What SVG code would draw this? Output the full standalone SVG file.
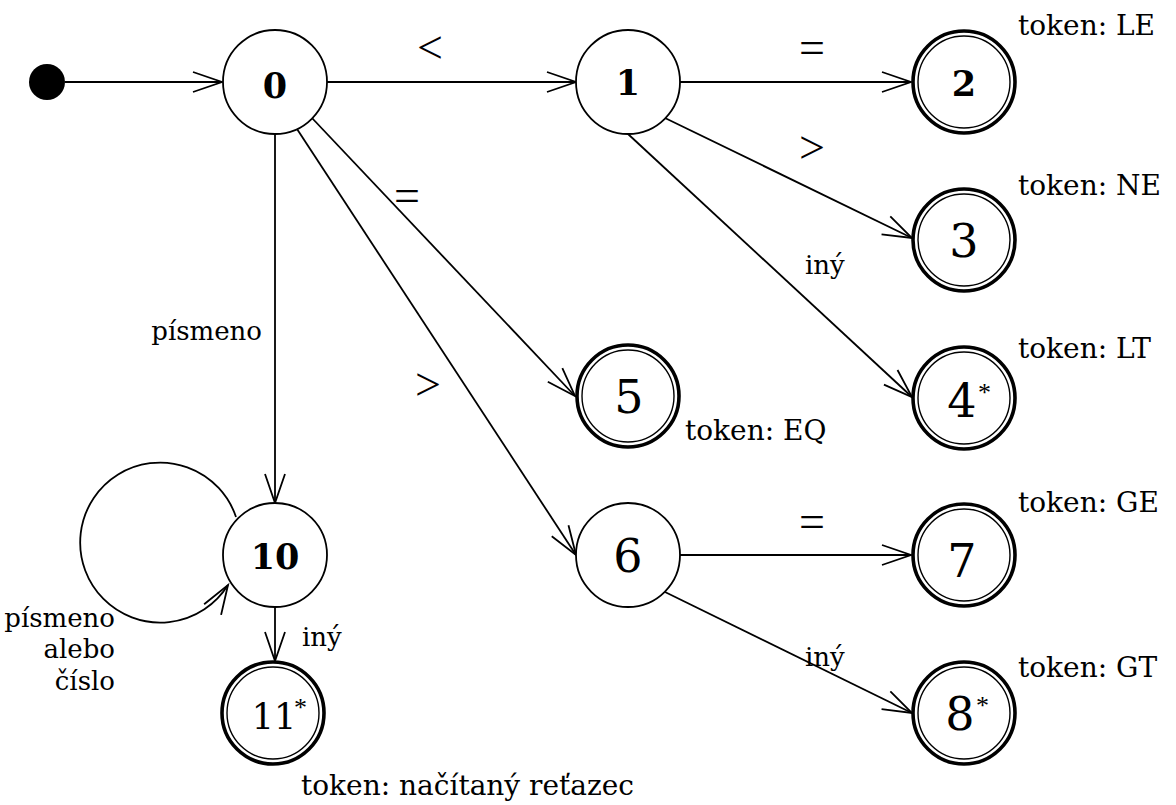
<svg xmlns="http://www.w3.org/2000/svg" width="1176" height="805" viewBox="0 0 1176 805">
  <defs>
    <marker id="arrow" markerUnits="userSpaceOnUse" markerWidth="40" markerHeight="30" viewBox="-32 -15 40 30" refX="0" refY="0" orient="auto" overflow="visible">
      <path d="M -29 -10 L 0 0 L -29 10" fill="none" stroke="#000" stroke-width="1.8" stroke-linejoin="miter"/>
    </marker>
    <style>
      .state { fill: #fff; stroke: #000; stroke-width: 1.8; }
      .outer { fill: #fff; stroke: #000; stroke-width: 3.6; }
      .inner { fill: none; stroke: #000; stroke-width: 1.4; }
      .edge { fill: none; stroke: #000; stroke-width: 1.8; marker-end: url(#arrow); }
      .num { font-family: "DejaVu Serif", serif; text-anchor: middle; fill: #000; }
      .small { font-size: 35px; font-weight: bold; }
      .big { font-size: 46px; }
      .ast { font-family: "Liberation Serif", serif; font-size: 26px; fill: #000; }
      .lbl { font-family: "DejaVu Serif", serif; font-size: 26px; fill: #000; }
      .tok { font-family: "DejaVu Serif", serif; font-size: 28px; fill: #000; }
      .op { font-family: "Liberation Serif", serif; font-size: 46px; text-anchor: middle; fill: #000; }
    </style>
  </defs>

  <!-- transitions -->
  <g id="edges">
    <line class="edge" x1="65" y1="82" x2="222" y2="82"/>
    <line class="edge" x1="327" y1="82" x2="576" y2="82"/>
    <line class="edge" x1="680" y1="82" x2="911" y2="82"/>
    <line class="edge" x1="665" y1="118" x2="912" y2="238"/>
    <line class="edge" x1="628" y1="134" x2="912" y2="397"/>
    <line class="edge" x1="312" y1="118" x2="575" y2="396"/>
    <line class="edge" x1="297" y1="129" x2="576" y2="555"/>
    <line class="edge" x1="275" y1="134" x2="275" y2="503"/>
    <line class="edge" x1="275" y1="607" x2="275" y2="661"/>
    <line class="edge" x1="680" y1="555" x2="911" y2="555"/>
    <line class="edge" x1="665" y1="592" x2="912" y2="713"/>
    <path class="edge" d="M 236 517 A 80 80 0 1 0 228 585"/>

    <text class="op" x="430" y="63">&lt;</text>
    <text class="op" x="812" y="63">=</text>
    <text class="op" x="812" y="163">&gt;</text>
    <text class="op" x="407" y="211">=</text>
    <text class="op" x="428" y="400">&gt;</text>
    <text class="op" x="812" y="537">=</text>
    <text class="lbl" x="805" y="274">iný</text>
    <text class="lbl" x="805" y="666">iný</text>
    <text class="lbl" x="302" y="646">iný</text>
    <text class="lbl" x="262" y="340" text-anchor="end">písmeno</text>
    <text class="lbl" x="115" text-anchor="end"><tspan x="115" y="627">písmeno</tspan><tspan x="115" y="658">alebo</tspan><tspan x="115" y="690">číslo</tspan></text>
  </g>

  <!-- initial marker -->
  <g id="start">
    <circle cx="47" cy="82" r="18" fill="#000"/>
  </g>

  <g id="s0">
    <circle class="state" cx="275" cy="82" r="52"/>
    <text class="num small" x="275" y="98">0</text>
  </g>
  <g id="s1">
    <circle class="state" cx="628" cy="82" r="52"/>
    <text class="num small" x="628" y="95">1</text>
  </g>
  <g id="s2">
    <circle class="outer" cx="964" cy="82" r="51"/>
    <circle class="inner" cx="964" cy="82" r="46"/>
    <text class="num small" x="964" y="96">2</text>
    <text class="tok" x="1018" y="35">token: LE</text>
  </g>
  <g id="s3">
    <circle class="outer" cx="964" cy="240" r="51"/>
    <circle class="inner" cx="964" cy="240" r="46"/>
    <text class="num big" x="964" y="257">3</text>
    <text class="tok" x="1018" y="195">token: NE</text>
  </g>
  <g id="s4">
    <circle class="outer" cx="964" cy="398" r="51"/>
    <circle class="inner" cx="964" cy="398" r="46"/>
    <text class="num big" x="962" y="417">4</text>
    <text class="ast" x="978" y="401">*</text>
    <text class="tok" x="1018" y="358">token: LT</text>
  </g>
  <g id="s5">
    <circle class="outer" cx="628" cy="396" r="51"/>
    <circle class="inner" cx="628" cy="396" r="46"/>
    <text class="num big" x="629" y="413">5</text>
    <text class="tok" x="685" y="440">token: EQ</text>
  </g>
  <g id="s6">
    <circle class="state" cx="628" cy="555" r="52"/>
    <text class="num big" x="628" y="572">6</text>
  </g>
  <g id="s7">
    <circle class="outer" cx="964" cy="555" r="51"/>
    <circle class="inner" cx="964" cy="555" r="46"/>
    <text class="num big" x="962" y="577">7</text>
    <text class="tok" x="1018" y="512">token: GE</text>
  </g>
  <g id="s8">
    <circle class="outer" cx="964" cy="713" r="51"/>
    <circle class="inner" cx="964" cy="713" r="46"/>
    <text class="num big" x="960" y="730">8</text>
    <text class="ast" x="976" y="714">*</text>
    <text class="tok" x="1018" y="677">token: GT</text>
  </g>
  <g id="s10">
    <circle class="state" cx="275" cy="555" r="52"/>
    <text class="num small" x="275" y="569">10</text>
  </g>
  <g id="s11">
    <circle class="outer" cx="273" cy="713" r="51"/>
    <circle class="inner" cx="273" cy="713" r="46"/>
    <text class="num" x="274" y="729" font-size="35">11</text>
    <text class="ast" x="294" y="716">*</text>
    <text class="tok" x="301" y="795">token: načítaný reťazec</text>
  </g>
</svg>
